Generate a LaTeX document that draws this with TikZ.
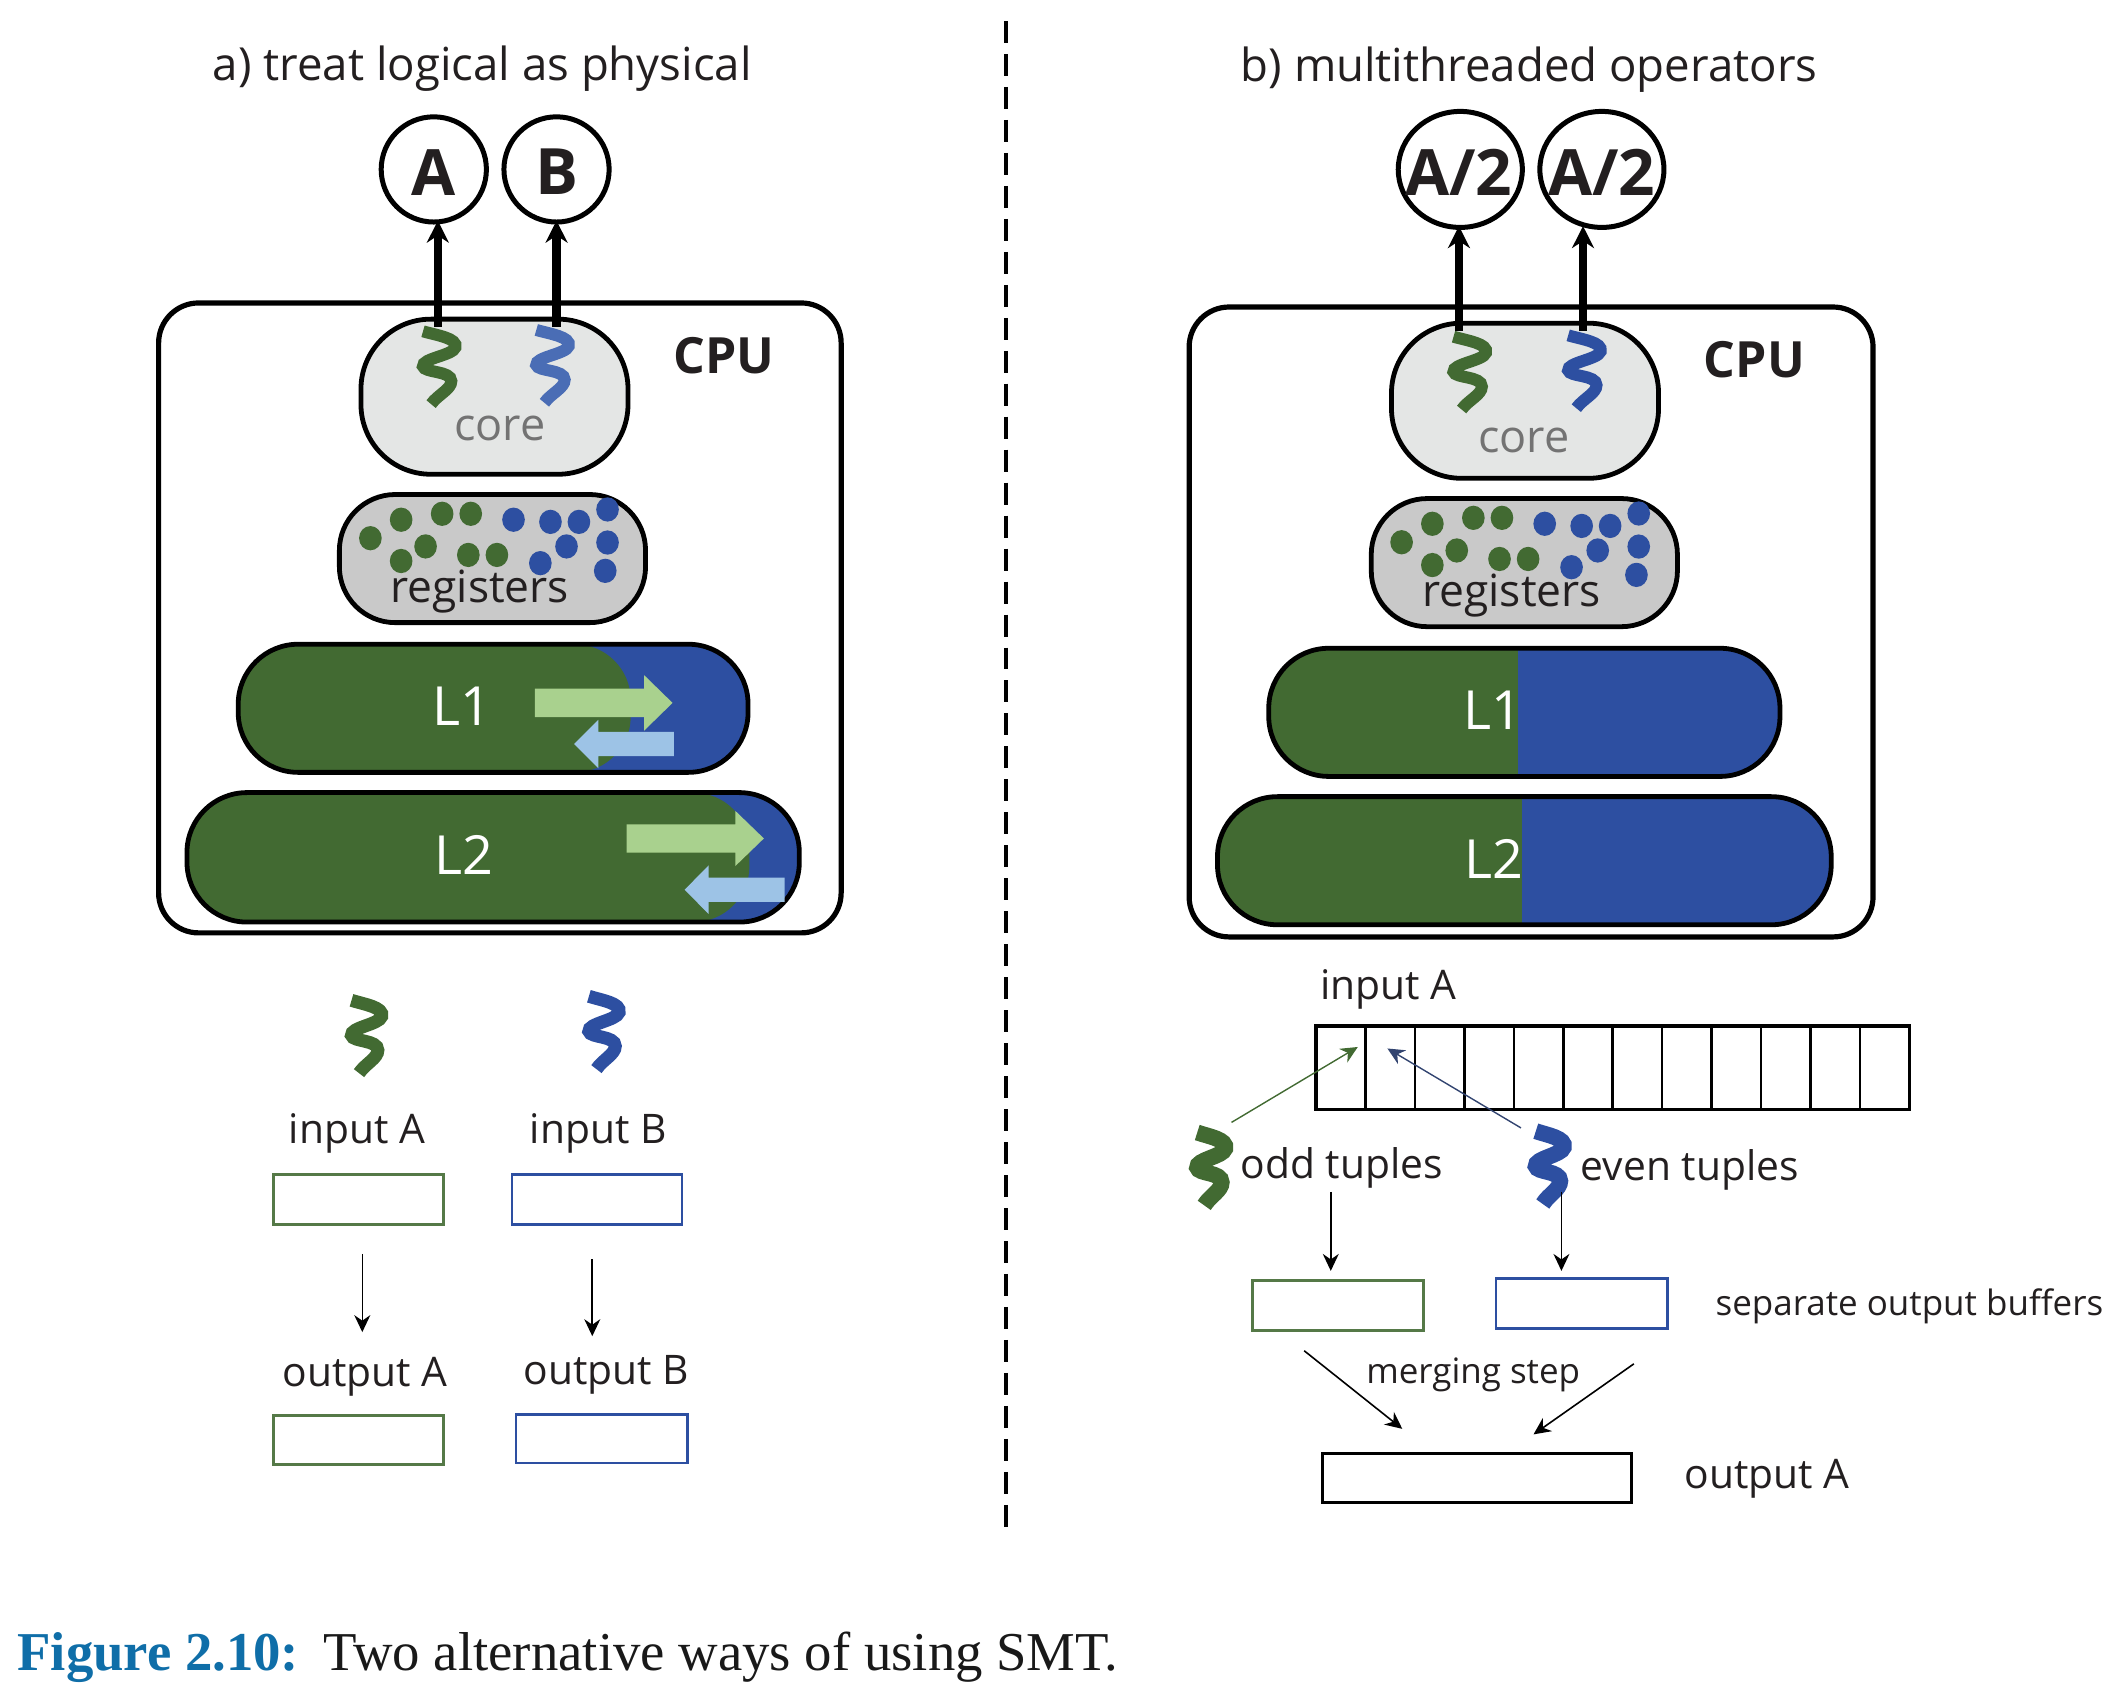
\documentclass[tikz,border=0pt]{standalone}
\usepackage{fontspec}
\setmainfont{Open Sans}
\newfontfamily\capfont{Liberation Serif}
\usetikzlibrary{arrows.meta,shapes.geometric}
\definecolor{gA}{HTML}{426A32}
\definecolor{bA}{HTML}{2D4FA1}
\definecolor{bB}{HTML}{4A6DB5}
\definecolor{coreg}{HTML}{E4E6E5}
\definecolor{regg}{HTML}{C9C9C9}
\definecolor{lgA}{HTML}{A9D18E}
\definecolor{lbA}{HTML}{9DC3E6}
\definecolor{ink}{HTML}{231F20}
\definecolor{capblue}{HTML}{0F6EA8}
\newdimen\uu \uu=0.675pt
\newcommand{\rbox}[6][]{\node[inner sep=0pt,outer sep=0pt,minimum width={(#5-#3)*\uu},minimum height={(#6-#4)*\uu},#1] (#2) at ({(#3+#5)/2},{(#4+#6)/2}) {};}
\newcommand{\squig}[5][]{\draw[color=#2,line width=#3pt,shift={(#4,#5)},#1] (0,0) .. controls (10,3) and (26,5) .. (24,12) .. controls (22,18) and (-1,20) .. (0,26) .. controls (1,31) and (21,29) .. (21,37) .. controls (21,43) and (11,47) .. (6,54);}
\newcommand{\blockR}[5]{\fill[#1] (#2,#5-10.5) -- (#3,#5-10.5) -- (#3,#5-20.5) -- (#4,#5) -- (#3,#5+20.5) -- (#3,#5+10.5) -- (#2,#5+10.5) -- cycle;}
\newcommand{\blockL}[5]{\fill[#1] (#2,#5-9) -- (#3,#5-9) -- (#3,#5-18) -- (#4,#5) -- (#3,#5+18) -- (#3,#5+9) -- (#2,#5+9) -- cycle;}
\tikzset{
 x=0.675pt,y=-0.675pt,
 title/.style={font=\fontsize{22.8}{26}\selectfont,text=ink,inner sep=0pt},
 lab/.style={font=\fontsize{20.4}{24}\selectfont,text=ink,inner sep=0pt},
 small/.style={font=\fontsize{17.5}{21}\selectfont,text=ink,inner sep=0pt},
 regfont/.style={font=\fontsize{22.2}{26}\selectfont,text=ink,inner sep=0pt},
 corefont/.style={font=\fontsize{22.5}{26}\selectfont,text=black!55,inner sep=0pt},
 big/.style={font=\fontsize{27}{30}\selectfont,text=white,inner sep=0pt},
 cpulab/.style={font=\fontsize{25}{28}\bfseries\selectfont,text=ink,inner sep=0pt},
 circlab/.style={font=\fontsize{32}{36}\bfseries\selectfont,text=ink,inner sep=0pt},
 circ/.style={draw=black,line width=2.5pt,fill=white,ellipse,inner sep=0pt},
 thick arrow/.style={line width=4.2pt,-{Stealth[length=11pt,width=11pt]}},
 thin arrow/.style={line width=0.8pt,-{Stealth[length=8.5pt,width=8pt]}},
 cpubox/.style={draw=black,line width=2.6pt,rounded corners=20pt,fill=white},
 corebox/.style={draw=black,line width=2.4pt,rounded corners=35pt,fill=coreg},
 regbox/.style={draw=black,line width=2.4pt,rounded corners=28pt,fill=regg},
 lvl/.style={rounded corners=30pt},
 buf/.style={draw=#1,line width=1.4pt,fill=white},
 dotg/.style={fill=gA},
 dotb/.style={fill=bA},
 capt/.style={anchor=base west,inner sep=0pt,font=\capfont\fontsize{27.4}{32}\selectfont},
}
\begin{document}
\begin{tikzpicture}
\useasboundingbox (-0.6,-0.6) rectangle (1567.4,1254.6);
% divider
\coordinate (divT) at (745,15); \coordinate (divB) at (745,1136);
\draw[line width=2.2pt,dash pattern=on 11pt off 5.5pt] (divT) -- (divB);
% titles
\node[title] (ta) at (357,50) {a) treat logical as physical};
\node[title] (tb) at (1133,51) {b) multithreaded operators};
% ---- left
\rbox[cpubox]{cpuA}{117}{224}{623}{691}
\node[cpulab] (cpuAl) at (536,263) {CPU};
\rbox[corebox]{coreA}{267}{236}{465}{351}
\node[corefont] (coreAl) at (370,317) {core};
\squig{gA}{6}{313}{245}
\squig{bB}{6}{397}{244}
\rbox[regbox]{regA}{251}{366}{478}{461}
\foreach \x/\y in {274/398.4,296.8/384.7,327.2/380.3,348.4/380.3,296.8/415.3,314.9/404.5,346.6/410.8,367.8/410.8}
  \fill[dotg] (\x,\y) ellipse (8.4 and 9);
\foreach \x/\y in {380.1/384.7,407.5/386.3,428.6/386.3,449.8/377.1,449.8/401.6,448.1/422.6,419.4/404.5,400/416.9}
  \fill[dotb] (\x,\y) ellipse (8.4 and 9);
\node[regfont] (regAl) at (355,438) {registers};
% L1 a
\rbox[lvl,fill=bA]{lAbg}{176}{477}{554}{572}
\begin{scope}
\clip[rounded corners=30pt] (176,477) rectangle (554,572);
\fill[gA,rounded corners=28pt] (150,477) rectangle (467,572);
\end{scope}
\rbox[lvl,draw=black,line width=2.4pt]{lA}{176}{477}{554}{572}
\node[big] (lAl) at (342,523) {L1};
\blockR{lgA}{396}{477}{498}{520.5}
\blockL{lbA}{499}{443}{425}{551}
% L2 a
\rbox[lvl,fill=bA]{mAbg}{138}{587}{592}{683}
\begin{scope}
\clip[rounded corners=30pt] (138,587) rectangle (592,683);
\fill[gA,rounded corners=28pt] (110,587) rectangle (555,683);
\end{scope}
\rbox[lvl,draw=black,line width=2.4pt]{mA}{138}{587}{592}{683}
\node[big] (mAl) at (343,633) {L2};
\blockR{lgA}{464}{544.5}{565.7}{621}
\blockL{lbA}{581}{524.7}{507}{659}
% circles
\node[circ,minimum width={78*\uu},minimum height={78*\uu}] (A) at (321,125) {};
\node[circlab] (Al) at (321,127) {A};
\node[circ,minimum width={78*\uu},minimum height={78*\uu}] (B) at (412,125) {};
\node[circlab] (Bl) at (412,127) {B};
\coordinate (sA) at (324,242); \coordinate (eA) at (324,163);
\coordinate (sB) at (412,242); \coordinate (eB) at (412,163);
\draw[thick arrow] (sA) -- (eA);
\draw[thick arrow] (sB) -- (eB);
% legend left
\squig[xscale=.93]{gA}{6.5}{260}{741}
\squig[xscale=.93]{bA}{6.5}{436}{738}
\node[lab] (inA) at (264,840) {input A};
\node[lab] (inB) at (443,840) {input B};
\rbox[buf=gA!90!white]{bufA}{202}{870}{328}{907}
\rbox[buf=bA]{bufB}{379}{870}{505}{907}
\rbox[buf=gA!90!white]{obufA}{202}{1049}{328}{1085}
\rbox[buf=bA]{obufB}{382}{1048}{509}{1084}
\node[lab] (outA) at (270,1020) {output A};
\node[lab] (outB) at (449,1019) {output B};
\coordinate (a1s) at (268,929); \coordinate (a1e) at (268,987);
\coordinate (a2s) at (438.5,933); \coordinate (a2e) at (438.5,990);
\draw[thin arrow] (a1s) -- (a1e);
\draw[thin arrow] (a2s) -- (a2e);
% ---- right
\rbox[cpubox]{cpuC}{881}{227}{1388}{694}
\node[cpulab] (cpuCl) at (1300,266) {CPU};
\rbox[corebox]{coreC}{1031}{239}{1229}{354}
\node[corefont] (coreCl) at (1129,326) {core};
\squig{gA}{6}{1077}{249}
\squig{bA}{6}{1162}{248}
\rbox[regbox]{regC}{1016}{369}{1243}{464}
\begin{scope}[shift={(764.5,3)}]
\foreach \x/\y in {274/398.4,296.8/384.7,327.2/380.3,348.4/380.3,296.8/415.3,314.9/404.5,346.6/410.8,367.8/410.8}
  \fill[dotg] (\x,\y) ellipse (8.4 and 9);
\foreach \x/\y in {380.1/384.7,407.5/386.3,428.6/386.3,449.8/377.1,449.8/401.6,448.1/422.6,419.4/404.5,400/416.9}
  \fill[dotb] (\x,\y) ellipse (8.4 and 9);
\end{scope}
\node[regfont] (regCl) at (1120,441) {registers};
% L1 b
\rbox[lvl,fill=bA]{lCbg}{940}{480}{1319}{575}
\begin{scope}
\clip[rounded corners=30pt] (940,480) rectangle (1319,575);
\fill[gA] (930,480) rectangle (1125,575);
\end{scope}
\rbox[lvl,draw=black,line width=2.4pt]{lC}{940}{480}{1319}{575}
\node[big] (lCl) at (1106,526) {L1};
% L2 b
\rbox[lvl,fill=bA]{mCbg}{902}{590}{1357}{685}
\begin{scope}
\clip[rounded corners=30pt] (902,590) rectangle (1357,685);
\fill[gA] (890,590) rectangle (1128,685);
\end{scope}
\rbox[lvl,draw=black,line width=2.4pt]{mC}{902}{590}{1357}{685}
\node[big] (mCl) at (1107,636) {L2};
% circles
\node[circ,minimum width={92*\uu},minimum height={86*\uu}] (C) at (1082,125) {};
\node[circlab] (Cl) at (1081,127) {A/2};
\node[circ,minimum width={92*\uu},minimum height={86*\uu}] (D) at (1187,125) {};
\node[circlab] (Dl) at (1187,127) {A/2};
\coordinate (sC) at (1081,245); \coordinate (eC) at (1081,167);
\coordinate (sD) at (1173,245); \coordinate (eD) at (1173,167);
\draw[thick arrow] (sC) -- (eC);
\draw[thick arrow] (sD) -- (eD);
% input bar
\node[lab,anchor=west] (inC) at (978,733) {input A};
\rbox[draw=black,line width=1.6pt]{bar}{975}{760}{1415}{822}
\foreach \i in {1,...,11} \draw[black,line width=1.3pt] ({975+\i*36.67},760) -- ({975+\i*36.67},822);
% odd/even
\squig[xscale=.86]{gA}{8}{887}{839}
\squig[xscale=.86]{bA}{8}{1138}{838}
\node[lab,anchor=west] (odd) at (919,865) {odd tuples};
\node[lab,anchor=west] (even) at (1171,867) {even tuples};
\coordinate (os) at (912.4,831.5); \coordinate (oe) at (1006,775.6);
\coordinate (es) at (1127,835.6); \coordinate (ee) at (1028,776.7);
\draw[line width=.7pt,color=gA,-{Stealth[length=8.5pt,width=8pt]}] (os) -- (oe);
\draw[line width=.7pt,color=bA!60!black!90,-{Stealth[length=8.5pt,width=8pt]}] (es) -- (ee);
\coordinate (d1s) at (986,883); \coordinate (d1e) at (986,941.6);
\coordinate (d2s) at (1157,883); \coordinate (d2e) at (1157,941.6);
\draw[thin arrow] (d1s) -- (d1e);
\draw[thin arrow] (d2s) -- (d2e);
\rbox[buf=gA!90!white]{bufO}{928}{948.5}{1054.5}{985.5}
\rbox[buf=bA]{bufE}{1108.5}{947.5}{1235.5}{984.5}
\node[small,anchor=west] (sep) at (1271,968) {separate output buffers};
\node[small,anchor=west] (mer) at (1012,1019) {merging step};
\coordinate (m1s) at (966.3,1000.8); \coordinate (m1e) at (1039,1058.7);
\coordinate (m2s) at (1210.7,1010.5); \coordinate (m2e) at (1136.3,1062.8);
\draw[thin arrow] (m1s) -- (m1e);
\draw[thin arrow] (m2s) -- (m2e);
\rbox[buf=black]{outC}{980}{1077}{1209}{1113}
\node[lab,anchor=west] (outCl) at (1248,1096) {output A};
% caption
\node[capt,text=capblue] (capa) at (12,1238) {\textbf{Figure 2.10:}};
\node[capt,text=black!90] (capb) at (239,1238) {Two alternative ways of using SMT.};
\end{tikzpicture}
\end{document}
